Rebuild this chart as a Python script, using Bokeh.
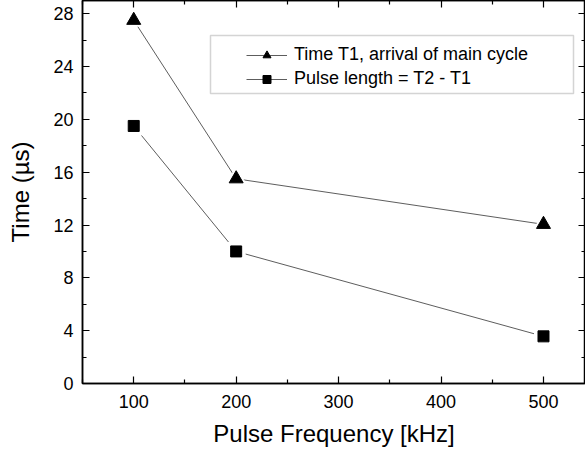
from bokeh.plotting import figure
from bokeh.models import (LinearAxis, Range1d, Legend, LegendItem, FixedTicker,
                          BoxAnnotation)
from bokeh.embed import file_html
from bokeh.resources import INLINE

freq = [100, 200, 500]
t1_arrival = [27.5, 15.5, 12.05]
pulse_length = [19.5, 10.0, 3.57]
x_ticks = [100, 200, 300, 400, 500]
x_minor = [50, 150, 250, 350, 450, 550]
y_ticks = [0, 4, 8, 12, 16, 20, 24, 28]
y_minor = [2, 6, 10, 14, 18, 22, 26]
series_names = ["Time T1, arrival of main cycle", "Pulse length = T2 - T1"]

FONT = "Liberation Sans"

p = figure(width=585, height=449, output_backend="svg", toolbar_location=None,
           x_range=Range1d(50, 541), y_range=Range1d(0, 29),
           min_border_left=82, min_border_right=0, min_border_top=0,
           min_border_bottom=65)
p.grid.visible = False
p.outline_line_color = "black"
p.outline_line_width = 1.5
p.background_fill_color = "white"
p.border_fill_color = "white"


def style_axis(ax):
    ax.axis_line_color = "black"
    ax.axis_line_width = 1.5
    ax.major_tick_in = 7
    ax.major_tick_out = 0
    ax.minor_tick_in = 4
    ax.minor_tick_out = 0
    ax.major_tick_line_width = 1.2
    ax.minor_tick_line_width = 1.2
    ax.major_tick_line_color = "black"
    ax.minor_tick_line_color = "black"
    ax.major_label_text_font = FONT
    ax.major_label_text_color = "black"
    ax.major_label_text_font_size = "18px"
    ax.axis_label_text_font = FONT
    ax.axis_label_text_color = "black"
    ax.axis_label_text_font_style = "normal"
    ax.axis_label_text_font_size = "24px"


p.xaxis.ticker = FixedTicker(ticks=x_ticks, minor_ticks=x_minor)
p.yaxis.ticker = FixedTicker(ticks=y_ticks, minor_ticks=y_minor)
style_axis(p.xaxis[0])
style_axis(p.yaxis[0])
p.xaxis.axis_label = "Pulse Frequency [kHz]"
p.yaxis.axis_label = "Time (\u00b5s)"
p.xaxis.major_label_standoff = 11
p.yaxis.major_label_standoff = 9
p.xaxis.axis_label_standoff = 9
p.yaxis.axis_label_standoff = 16

# mirrored tick-only axes (no labels)
top = LinearAxis(ticker=FixedTicker(ticks=x_ticks, minor_ticks=x_minor))
style_axis(top)
top.major_label_overrides = {t: "" for t in x_ticks}
top.major_label_standoff = 0
p.add_layout(top, "above")
right = LinearAxis(ticker=FixedTicker(ticks=y_ticks, minor_ticks=y_minor))
style_axis(right)
right.major_label_overrides = {t: "" for t in y_ticks}
right.major_label_standoff = 0
p.add_layout(right, "right")

# legend frame
box = BoxAnnotation(left=128, right=491, top=348, bottom=290,
                    left_units="screen", right_units="screen",
                    top_units="screen", bottom_units="screen",
                    fill_color="white", fill_alpha=1,
                    line_color="#707070", line_width=1.5)
p.add_layout(box)

line_col = "#333333"
l1 = p.line(freq, t1_arrival, line_color=line_col, line_width=0.8)
l2 = p.line(freq, pulse_length, line_color=line_col, line_width=0.8)
# white halos around markers (gap between line and marker)
p.scatter(freq, t1_arrival, marker="triangle", size=22, fill_color="white",
          line_color=None)
p.scatter(freq, pulse_length, marker="square", size=19, fill_color="white",
          line_color=None)
m1 = p.scatter(freq, t1_arrival, marker="triangle", size=14, fill_color="black",
               line_color="black")
m2 = p.scatter(freq, pulse_length, marker="square", size=11, fill_color="black",
               line_color="black")

legend = Legend(items=[LegendItem(label=series_names[0], renderers=[l1, m1]),
                       LegendItem(label=series_names[1], renderers=[l2, m2])],
                location=(164, 294), padding=0, margin=0, spacing=3,
                glyph_width=41, glyph_height=20, label_height=20,
                label_standoff=7, label_text_font=FONT,
                label_text_font_size="18px", label_text_color="black",
                border_line_alpha=0, background_fill_alpha=0)
p.add_layout(legend, "center")

open("out.html", "w").write(file_html(p, INLINE))
